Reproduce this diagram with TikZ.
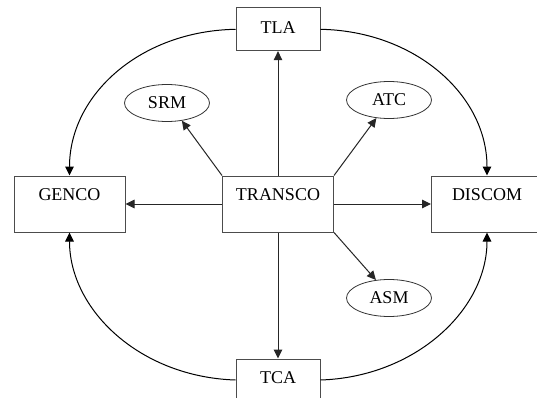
\documentclass[tikz,border=0pt]{standalone}
\usepackage{fontspec}
\setmainfont{Liberation Serif}
\usetikzlibrary{arrows.meta,shapes.geometric}
\begin{document}
\begin{tikzpicture}[x=1pt,y=-1pt,
  lbl/.style={font=\fontsize{18}{20}\selectfont},
  box/.style={lbl, draw=black!70, line width=1pt, fill=white, inner sep=0pt,
    minimum width=111pt, text height=24.7pt, text depth=31.3pt},
  smallbox/.style={lbl, draw=black!70, line width=1pt, fill=white, inner sep=0pt,
    minimum width=84pt},
  oval/.style={lbl, ellipse, draw=black!80, line width=0.8pt, fill=white,
    inner sep=0pt, minimum width=85pt, minimum height=37pt},
  arr/.style={draw=black!85, line width=1pt, -{Triangle[length=9pt,width=8.5pt]}},
  curve/.style={draw=black, line width=1pt, -{Triangle[length=9pt,width=8.5pt]}}]
\useasboundingbox (0,0) rectangle (537,398);
\clip (0,0) rectangle (537,398);
\fill[white] (0,0) rectangle (537,398);

\node[box] (genco) at (69.5,204) {GENCO};
\node[box] (transco) at (278,204) {TRANSCO};
\node[box] (discom) at (487,204) {DISCOM};
\node[smallbox, text height=25.3pt, text depth=17.4pt] (tla) at (278,29.3) {TLA};
\node[smallbox, text height=24.3pt, text depth=17.7pt] (tca) at (278,380) {TCA};

\node[oval] (srm) at (167,103) {SRM};
\node[oval] (atc) at (389,100) {ATC};
\node[oval] (asm) at (389,298) {ASM};

\draw[arr] (transco.north) -- (tla.south);
\draw[arr] (transco.south) -- (tca.north);
\draw[arr] (transco.west) -- (genco.east);
\draw[arr] (transco.east) -- (discom.west);
\draw[arr] (transco.north west) -- (srm.-50);
\draw[arr] (transco.north east) -- (atc.235);
\draw[arr] (transco.south east) -- (asm.126);

\draw[curve] (tla.west) .. controls (140,31) and (69.5,95) .. (genco.north);
\draw[curve] (tla.east) .. controls (415,31) and (487,95) .. (discom.north);
\draw[curve] (tca.west) .. controls (140,377) and (69.5,310) .. (genco.south);
\draw[curve] (tca.east) .. controls (415,377) and (487,310) .. (discom.south);
\end{tikzpicture}
\end{document}
